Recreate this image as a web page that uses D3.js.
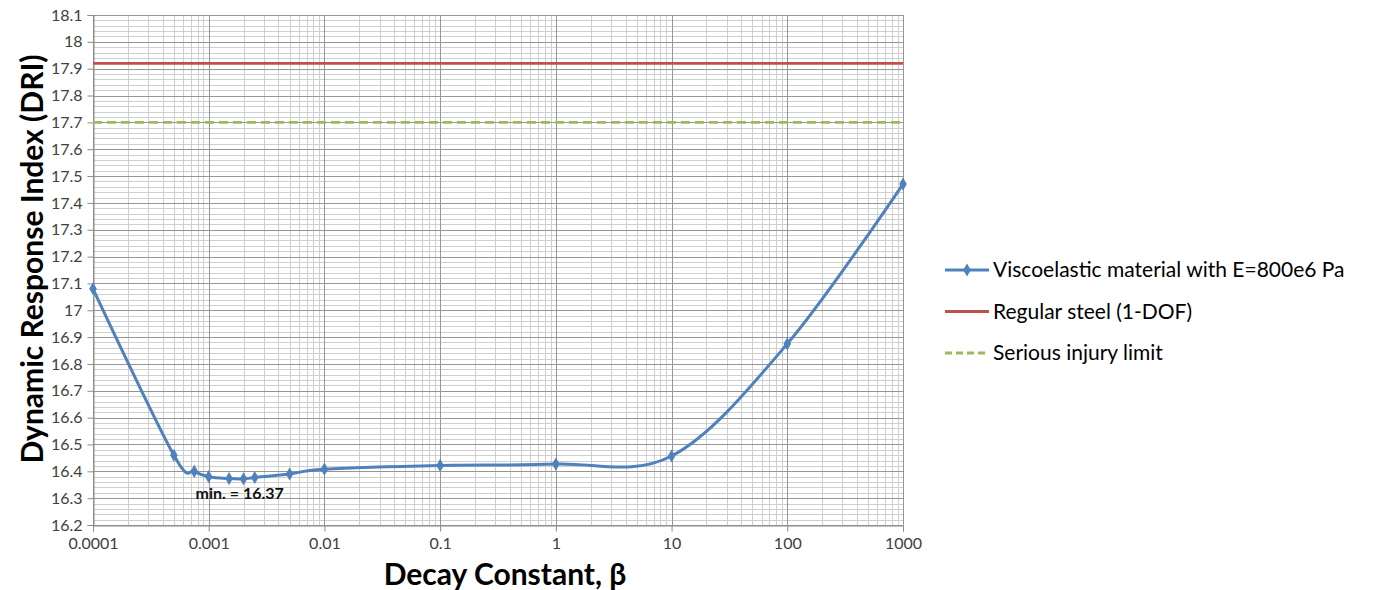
<!DOCTYPE html>
<html>
<head>
<meta charset="utf-8">
<script src="https://cdn.jsdelivr.net/npm/d3@7"></script>
<style>
  html, body { margin: 0; padding: 0; background: #fff; }
  svg { display: block; font-family: Lato, "Open Sans", sans-serif; }
</style>
</head>
<body>
<div id="chart"></div>
<script>
// decay constant (beta) values and the DRI
const betaValues = [0.0001, 0.0005, 0.00075, 0.001, 0.0015, 0.002, 0.0025, 0.005, 0.01, 0.1, 1, 10, 100, 1000];
const driValues = [17.08, 16.46, 16.40, 16.38, 16.373, 16.372, 16.377, 16.39, 16.408, 16.422, 16.427, 16.457, 16.875, 17.47];
const steelDri = 17.92;
const injuryLimit = 17.7;
const xTickLabels = ["0.0001", "0.001", "0.01", "0.1", "1", "10", "100", "1000"];
const yTickLabels = ["16.2", "16.3", "16.4", "16.5", "16.6", "16.7", "16.8", "16.9", "17", "17.1",
  "17.2", "17.3", "17.4", "17.5", "17.6", "17.7", "17.8", "17.9", "18", "18.1"];
const legendLabels = ["Viscoelastic material with E=800e6 Pa", "Regular steel (1-DOF)", "Serious injury limit"];
const minLabel = "min. = 16.37";

const WIDTH = 1377, HEIGHT = 590;
const MARGIN = { top: 15, left: 93, right: 474, bottom: 65 };
const BLUE = "#4F81BD", RED = "#C0504D", GREEN = "#9BBB59";

const svg = d3.select("#chart").append("svg")
  .attr("width", WIDTH)
  .attr("height", HEIGHT);

const x = d3.scaleLog().domain([0.0001, 1000]).range([MARGIN.left, WIDTH - MARGIN.right]);
const y = d3.scaleLinear().domain([16.2, 18.1]).range([HEIGHT - MARGIN.bottom, MARGIN.top]);

const grid = svg.append("g");
// minor horizontal grid every 0.02
const yMinor = d3.range(0, 96).map(i => 16.2 + i * 0.02);
grid.selectAll("line.ymin").data(yMinor).join("line")
  .attr("x1", x.range()[0]).attr("x2", x.range()[1])
  .attr("y1", d => Math.round(y(d)) + 0.5).attr("y2", d => Math.round(y(d)) + 0.5)
  .attr("stroke", "#cfcfcf").attr("stroke-width", 1);

// minor vertical grid 2..9 per decade
const xMinor = [];
for (let e = -4; e < 3; e++) for (let k = 2; k <= 9; k++) xMinor.push(k * Math.pow(10, e));
grid.selectAll("line.xmin").data(xMinor).join("line")
  .attr("x1", d => Math.round(x(d)) + 0.5).attr("x2", d => Math.round(x(d)) + 0.5)
  .attr("y1", y.range()[0]).attr("y2", y.range()[1])
  .attr("stroke", "#cfcfcf").attr("stroke-width", 1);

// major grids
grid.selectAll("line.ymaj").data(yTickLabels.map(Number)).join("line")
  .attr("x1", x.range()[0]).attr("x2", x.range()[1])
  .attr("y1", d => Math.round(y(d)) + 0.5).attr("y2", d => Math.round(y(d)) + 0.5)
  .attr("stroke", "#969696").attr("stroke-width", 1);
grid.selectAll("line.xmaj").data(xTickLabels.map(Number)).join("line")
  .attr("x1", d => Math.round(x(d)) + 0.5).attr("x2", d => Math.round(x(d)) + 0.5)
  .attr("y1", y.range()[0]).attr("y2", y.range()[1])
  .attr("stroke", "#969696").attr("stroke-width", 1);

// axes
const yAxis = d3.axisLeft(y)
  .tickValues(yTickLabels.map(Number))
  .tickFormat((d, i) => yTickLabels[i])
  .tickSize(6).tickPadding(5);
const gy = svg.append("g").attr("transform", `translate(${MARGIN.left + 0.5},0)`).call(yAxis);

const xAxis = d3.axisBottom(x)
  .tickValues(xTickLabels.map(Number))
  .tickFormat((d, i) => xTickLabels[i])
  .tickSize(6).tickPadding(6);
const gx = svg.append("g").attr("transform", `translate(0,${HEIGHT - MARGIN.bottom + 0.5})`).call(xAxis);

[gx, gy].forEach(g => {
  g.select(".domain").attr("stroke", "#8a8a8a");
  g.selectAll(".tick line").attr("stroke", "#8a8a8a");
  g.selectAll(".tick text").attr("fill", "#404040")
    .style("font-size", "16px").style("font-family", "Lato, 'Open Sans', sans-serif");
});

// horizontal reference lines
svg.append("line")
  .attr("x1", x.range()[0]).attr("x2", x.range()[1])
  .attr("y1", y(steelDri)).attr("y2", y(steelDri))
  .attr("stroke", RED).attr("stroke-width", 2.8);
svg.append("line")
  .attr("x1", x.range()[0]).attr("x2", x.range()[1])
  .attr("y1", y(injuryLimit)).attr("y2", y(injuryLimit))
  .attr("stroke", GREEN).attr("stroke-width", 2.8).attr("stroke-dasharray", "9,5");

// main series, smoothed like the spreadsheet
const pts = betaValues.map((b, i) => [b, driValues[i]]);
const line = d3.line().x(d => x(d[0])).y(d => y(d[1])).curve(d3.curveCardinal.tension(0));
svg.append("path").datum(pts)
  .attr("d", line)
  .attr("fill", "none").attr("stroke", BLUE).attr("stroke-width", 3);

const diamond = d3.symbol().type(d3.symbolDiamond).size(50);
svg.selectAll("path.marker").data(pts).join("path")
  .attr("class", "marker")
  .attr("d", diamond)
  .attr("transform", d => `translate(${x(d[0])},${y(d[1])})`)
  .attr("fill", BLUE);

// min annotation
svg.append("text")
  .attr("x", x(0.00077)).attr("y", y(16.37) + 20)
  .attr("font-size", 16).attr("font-weight", "bold").attr("fill", "#111")
  .text(minLabel);

// axis titles
svg.append("text")
  .attr("transform", `translate(43,259) rotate(-90)`)
  .attr("text-anchor", "middle")
  .attr("font-size", 30).attr("font-weight", "bold").attr("fill", "#000")
  .text("Dynamic Response Index (DRI)");
svg.append("text")
  .attr("x", 505).attr("y", 585)
  .attr("text-anchor", "middle")
  .attr("font-size", 30).attr("font-weight", "bold").attr("fill", "#000")
  .text("Decay Constant, \u03B2");

// legend
const legend = svg.append("g").attr("transform", "translate(945,270)");
const rows = legend.selectAll("g").data(legendLabels).join("g")
  .attr("transform", (d, i) => `translate(0,${i * 41.5})`);
rows.append("line")
  .attr("x1", 0).attr("x2", 44).attr("y1", 0).attr("y2", 0)
  .attr("stroke", (d, i) => [BLUE, RED, GREEN][i])
  .attr("stroke-width", (d, i) => i === 0 ? 3 : 2.8)
  .attr("stroke-dasharray", (d, i) => i === 2 ? "7,4" : null);
rows.filter((d, i) => i === 0).append("path")
  .attr("d", diamond).attr("transform", "translate(22,0)").attr("fill", BLUE);
rows.append("text")
  .attr("x", 48).attr("y", 0).attr("dy", "0.35em")
  .attr("font-size", 21).attr("fill", "#000")
  .text(d => d);
</script>
</body>
</html>
